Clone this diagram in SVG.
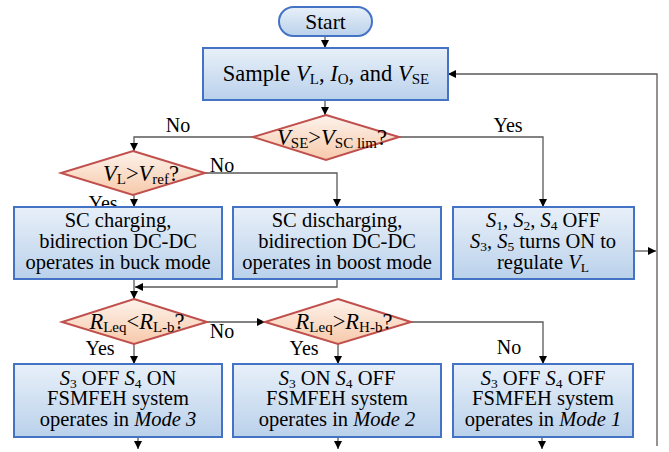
<svg xmlns="http://www.w3.org/2000/svg" width="669" height="452" viewBox="0 0 669 452" font-family="'Liberation Serif', 'Times New Roman', 'DejaVu Serif', serif">
  <defs>
    <linearGradient id="gBox" x1="0" y1="0" x2="0" y2="1">
      <stop offset="0" stop-color="#e8f0f9"/>
      <stop offset="1" stop-color="#bad1eb"/>
    </linearGradient>
    <linearGradient id="gDia" x1="0" y1="0" x2="0" y2="1">
      <stop offset="0" stop-color="#fdf3ec"/>
      <stop offset="1" stop-color="#f7c9aa"/>
    </linearGradient>
    <marker id="arr" markerUnits="userSpaceOnUse" markerWidth="9" markerHeight="9" refX="8" refY="4" orient="auto">
      <path d="M0,0 L8,4 L0,8 z" fill="#000"/>
    </marker>
    <style>
      .box { fill: url(#gBox); stroke: #4472c4; stroke-width: 2; }
      .dia { fill: url(#gDia); stroke: #c0504d; stroke-width: 2; }
      .t { font-size: 20.5px; fill: #000; text-anchor: middle; }
      .q { font-size: 22.5px; fill: #000; text-anchor: middle; }
      .lbl { font-size: 20px; fill: #000; text-anchor: middle; }
      .i { font-style: italic; }
      .s { font-size: 13.5px; font-style: normal; }
      .q .s { font-size: 15px; }
      .c { fill: none; stroke: #595959; stroke-width: 1.3; }
    </style>
  </defs>

  <!-- connectors -->
  <g id="connectors">
    <path class="c" d="M325,36 V48" marker-end="url(#arr)"/>
    <path class="c" d="M325,100 V115" marker-end="url(#arr)"/>
    <path class="c" d="M253,137 H134 V151" marker-end="url(#arr)"/>
    <path class="c" d="M399,137 H543 V207" marker-end="url(#arr)"/>
    <path class="c" d="M134,195 V207" marker-end="url(#arr)"/>
    <path class="c" d="M205,173 H337 V207" marker-end="url(#arr)"/>
    <path class="c" d="M134,279 V299" marker-end="url(#arr)"/>
    <path class="c" d="M337,279 V287 H135" marker-end="url(#arr)"/>
    <path class="c" d="M207,322 H265" marker-end="url(#arr)"/>
    <path class="c" d="M134,344 V364" marker-end="url(#arr)"/>
    <path class="c" d="M338,344 V364" marker-end="url(#arr)"/>
    <path class="c" d="M411,322 H543 V364" marker-end="url(#arr)"/>
    <path class="c" d="M138,437 V449" marker-end="url(#arr)"/>
    <path class="c" d="M338,437 V449" marker-end="url(#arr)"/>
    <path class="c" d="M542,437 V449" marker-end="url(#arr)"/>
    <path class="c" d="M634,251 H656" marker-end="url(#arr)"/>
    <path class="c" d="M657,446 V74 H448" marker-end="url(#arr)"/>
    <text class="lbl" x="178" y="132">No</text>
    <text class="lbl" x="508" y="132">Yes</text>
    <text class="lbl" x="222" y="172">No</text>
    <text class="lbl" x="103" y="210">Yes</text>
    <text class="lbl" x="222" y="338">No</text>
    <text class="lbl" x="100" y="355">Yes</text>
    <text class="lbl" x="304" y="355">Yes</text>
    <text class="lbl" x="509" y="354">No</text>
  </g>

  <g id="start">
    <rect class="box" x="279" y="7" width="93" height="29" rx="14.5"/>
    <text class="t" x="325.5" y="29" style="font-size:21.5px">Start</text>
  </g>

  <g id="sample">
    <rect class="box" x="203" y="48" width="245" height="52"/>
    <text class="q" x="326" y="81">Sample <tspan class="i">V</tspan><tspan class="s" dy="3">L</tspan><tspan dy="-3">, </tspan><tspan class="i">I</tspan><tspan class="s" dy="3">O</tspan><tspan dy="-3">, and </tspan><tspan class="i">V</tspan><tspan class="s" dy="3">SE</tspan></text>
  </g>

  <g id="check-vse">
    <polygon class="dia" points="326,115 399,137 326,160 253,137"/>
    <text class="q" x="332" y="145"><tspan class="i">V</tspan><tspan class="s" dy="3">SE</tspan><tspan dy="-3">&gt;</tspan><tspan class="i">V</tspan><tspan class="s" dy="3">SC lim</tspan><tspan dy="-3">?</tspan></text>
  </g>

  <g id="check-vl">
    <polygon class="dia" points="133,151 205,173 133,195 61,173"/>
    <text class="q" x="141" y="181"><tspan class="i">V</tspan><tspan class="s" dy="3">L</tspan><tspan dy="-3">&gt;</tspan><tspan class="i">V</tspan><tspan class="s" dy="3">ref</tspan><tspan dy="-3">?</tspan></text>
  </g>

  <g id="sc-charging">
    <rect class="box" x="14" y="207" width="208" height="72"/>
    <text class="t" x="118" y="227">SC charging,</text>
    <text class="t" x="118" y="248">bidirection DC-DC</text>
    <text class="t" x="118" y="269">operates in buck mode</text>
  </g>

  <g id="sc-discharging">
    <rect class="box" x="233" y="207" width="208" height="72"/>
    <text class="t" x="337" y="227">SC discharging,</text>
    <text class="t" x="337" y="248">bidirection DC-DC</text>
    <text class="t" x="337" y="269">operates in boost mode</text>
  </g>

  <g id="regulate">
    <rect class="box" x="453" y="207" width="181" height="72"/>
    <text class="t" x="543" y="227"><tspan class="i">S</tspan><tspan class="s" dy="3">1</tspan><tspan dy="-3">, </tspan><tspan class="i">S</tspan><tspan class="s" dy="3">2</tspan><tspan dy="-3">, </tspan><tspan class="i">S</tspan><tspan class="s" dy="3">4</tspan><tspan dy="-3"> OFF</tspan></text>
    <text class="t" x="543" y="248"><tspan class="i">S</tspan><tspan class="s" dy="3">3</tspan><tspan dy="-3">, </tspan><tspan class="i">S</tspan><tspan class="s" dy="3">5</tspan><tspan dy="-3"> turns ON to</tspan></text>
    <text class="t" x="543" y="269">regulate <tspan class="i">V</tspan><tspan class="s" dy="3">L</tspan></text>
  </g>

  <g id="check-rl">
    <polygon class="dia" points="134,299 207,322 134,344 62,322"/>
    <text class="q" x="137" y="329"><tspan class="i">R</tspan><tspan class="s" dy="3">Leq</tspan><tspan dy="-3">&lt;</tspan><tspan class="i">R</tspan><tspan class="s" dy="3">L-b</tspan><tspan dy="-3">?</tspan></text>
  </g>

  <g id="check-rh">
    <polygon class="dia" points="338,299 411,322 338,344 265,322"/>
    <text class="q" x="344" y="329"><tspan class="i">R</tspan><tspan class="s" dy="3">Leq</tspan><tspan dy="-3">&gt;</tspan><tspan class="i">R</tspan><tspan class="s" dy="3">H-b</tspan><tspan dy="-3">?</tspan></text>
  </g>

  <g id="mode3">
    <rect class="box" x="14" y="364" width="208" height="73"/>
    <text class="t" x="118" y="385"><tspan class="i">S</tspan><tspan class="s" dy="3">3</tspan><tspan dy="-3"> OFF </tspan><tspan class="i">S</tspan><tspan class="s" dy="3">4</tspan><tspan dy="-3"> ON</tspan></text>
    <text class="t" x="118" y="405">FSMFEH system</text>
    <text class="t" x="118" y="426">operates in <tspan class="i">Mode 3</tspan></text>
  </g>

  <g id="mode2">
    <rect class="box" x="233" y="364" width="208" height="73"/>
    <text class="t" x="337" y="385"><tspan class="i">S</tspan><tspan class="s" dy="3">3</tspan><tspan dy="-3"> ON </tspan><tspan class="i">S</tspan><tspan class="s" dy="3">4</tspan><tspan dy="-3"> OFF</tspan></text>
    <text class="t" x="337" y="405">FSMFEH system</text>
    <text class="t" x="337" y="426">operates in <tspan class="i">Mode 2</tspan></text>
  </g>

  <g id="mode1">
    <rect class="box" x="453" y="364" width="180" height="73"/>
    <text class="t" x="543" y="385"><tspan class="i">S</tspan><tspan class="s" dy="3">3</tspan><tspan dy="-3"> OFF </tspan><tspan class="i">S</tspan><tspan class="s" dy="3">4</tspan><tspan dy="-3"> OFF</tspan></text>
    <text class="t" x="543" y="405">FSMFEH system</text>
    <text class="t" x="543" y="426">operates in <tspan class="i">Mode 1</tspan></text>
  </g>
</svg>
